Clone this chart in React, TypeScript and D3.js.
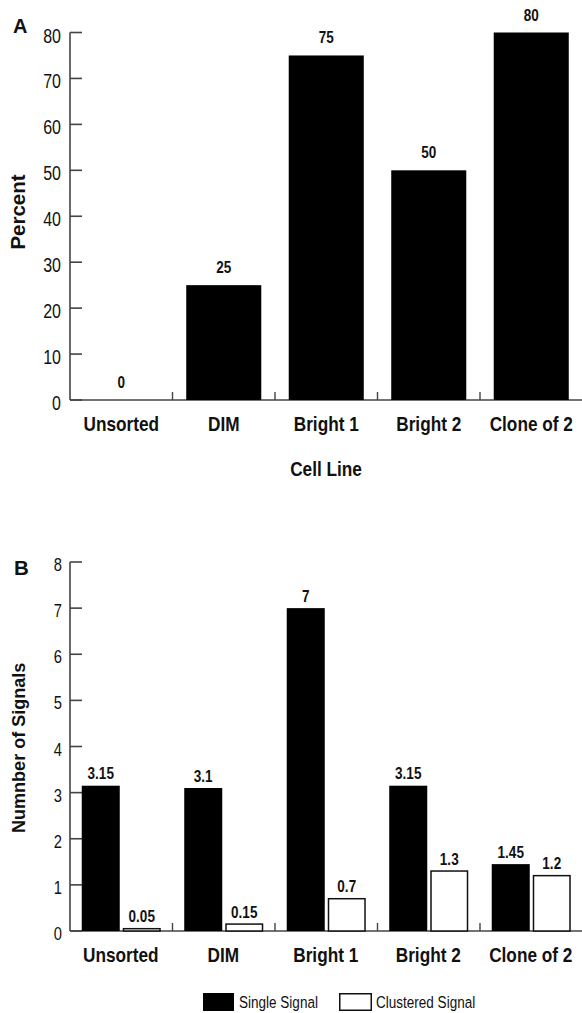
import React from "react";
import * as d3 from "d3";

const categories = ["Unsorted", "DIM", "Bright 1", "Bright 2", "Clone of 2"];
const percentValues = [0, 25, 75, 50, 80];
const percentTicks = [0, 10, 20, 30, 40, 50, 60, 70, 80];
const seriesNames = ["Single Signal", "Clustered Signal"];
const singleSignal = [3.15, 3.1, 7, 3.15, 1.45];
const clusteredSignal = [0.05, 0.15, 0.7, 1.3, 1.2];
const signalTicks = [0, 1, 2, 3, 4, 5, 6, 7, 8];

const W = 582;
const H = 1013;
const FONT = "'Liberation Sans', Arial, Helvetica, sans-serif";
const SQ = 0.82;

function T({ x, y, size, weight = "normal", anchor = "middle", rotate = 0, sx = SQ, children }: any) {
  return (
    <g transform={`translate(${x},${y}) rotate(${rotate}) scale(${sx},1)`}>
      <text
        x={0}
        y={0}
        fontFamily={FONT}
        fontSize={size}
        fontWeight={weight}
        textAnchor={anchor}
        fill="#111"
      >
        {children}
      </text>
    </g>
  );
}

export default function App() {
  const x0 = 70;
  const x1 = 582.5;
  const axisColor = "#444";

  // Panel A
  const xA = d3.scaleBand<string>().domain(categories).range([x0, x1]).paddingInner(0.268).paddingOuter(0.134);
  const yA = d3.scaleLinear().domain([0, 80]).range([400, 32.5]);
  const stepA = xA.step();

  // Panel B
  const xB = d3.scaleBand<string>().domain(categories).range([x0, x1]).paddingInner(0.229).paddingOuter(0.1145);
  const xS = d3.scaleBand<string>().domain(seriesNames).range([0, xB.bandwidth()]).paddingInner(0.073).paddingOuter(0);
  const yB = d3.scaleLinear().domain([0, 8]).range([931, 562]);

  const dividers = d3.range(1, categories.length).map((i) => x0 + i * stepA);

  return (
    <svg
      width={W}
      height={H}
      style={{ position: "absolute", left: 0, top: 0, background: "#fff" }}
    >
      <rect width={W} height={H} fill="#fff" />

      {/* ---------- Panel A ---------- */}
      <text x={13} y={33} fontFamily={FONT} fontSize={20} fontWeight="bold" fill="#111">A</text>

      {/* y axis */}
      <line x1={x0} x2={x0} y1={yA(80)} y2={yA(0)} stroke={axisColor} strokeWidth={1.6} />
      {percentTicks.map((t) => (
        <g key={"ta" + t}>
          <line x1={x0} x2={x0 + 12} y1={yA(t)} y2={yA(t)} stroke={axisColor} strokeWidth={1.6} />
          <T x={61} y={yA(t) + 10} size={19.5} anchor="end">{t}</T>
        </g>
      ))}
      {/* x axis */}
      <line x1={x0} x2={W} y1={yA(0)} y2={yA(0)} stroke={axisColor} strokeWidth={1.6} />
      {dividers.map((d) => (
        <line key={"da" + d} x1={d} x2={d} y1={yA(0)} y2={yA(0) - 8} stroke={axisColor} strokeWidth={1.4} />
      ))}

      {categories.map((c, i) => {
        const v = percentValues[i];
        const bx = xA(c)!;
        return (
          <g key={"ba" + c}>
            {v > 0 && (
              <rect x={bx} y={yA(v)} width={xA.bandwidth()} height={yA(0) - yA(v)} fill="#000" />
            )}
            <T x={bx + xA.bandwidth() / 2} y={yA(v) - 12} size={16.5} weight="bold">{v}</T>
            <T x={bx + xA.bandwidth() / 2} y={431} size={21} weight="bold">{c}</T>
          </g>
        );
      })}

      <T x={326} y={476} size={21} weight="bold">Cell Line</T>
      <T x={25} y={212} size={20.5} weight="bold" rotate={-90} sx={1}>Percent</T>

      {/* ---------- Panel B ---------- */}
      <text x={14} y={575} fontFamily={FONT} fontSize={20.5} fontWeight="bold" fill="#111">B</text>

      <line x1={x0} x2={x0} y1={yB(8)} y2={yB(0)} stroke={axisColor} strokeWidth={1.6} />
      {signalTicks.map((t) => (
        <g key={"tb" + t}>
          <line x1={x0} x2={x0 + 12} y1={yB(t)} y2={yB(t)} stroke={axisColor} strokeWidth={1.6} />
          <T x={62} y={yB(t) + 9} size={18} anchor="end">{t}</T>
        </g>
      ))}
      <line x1={x0} x2={W} y1={yB(0)} y2={yB(0)} stroke={axisColor} strokeWidth={1.6} />
      {dividers.map((d) => (
        <line key={"db" + d} x1={d} x2={d} y1={yB(0)} y2={yB(0) - 8} stroke={axisColor} strokeWidth={1.4} />
      ))}

      {categories.map((c, i) => {
        const bx = xB(c)!;
        const vals = [singleSignal[i], clusteredSignal[i]];
        return (
          <g key={"bb" + c}>
            {seriesNames.map((s, j) => {
              const v = vals[j];
              const sx = bx + xS(s)!;
              const w = xS.bandwidth();
              return (
                <g key={s}>
                  {j === 0 ? (
                    <rect x={sx} y={yB(v)} width={w} height={yB(0) - yB(v)} fill="#000" />
                  ) : (
                    <rect
                      x={sx + 0.75}
                      y={yB(v)}
                      width={w - 1.5}
                      height={yB(0) - yB(v)}
                      fill="#fff"
                      stroke="#111"
                      strokeWidth={1.5}
                    />
                  )}
                  <T x={sx + w / 2} y={yB(v) - 6.5} size={16.5} weight="bold">{v}</T>
                </g>
              );
            })}
            <T x={bx + xB.bandwidth() / 2 - 0.5} y={yB(0) + 31} size={21} weight="bold">{c}</T>
          </g>
        );
      })}

      <T x={25} y={833} size={19} weight="bold" rotate={-90} sx={0.95} anchor="start">Numnber of Signals</T>

      {/* legend */}
      <rect x={203} y={993} width={31} height={18} fill="#000" />
      <T x={239} y={1008} size={16.5} anchor="start">{seriesNames[0]}</T>
      <rect x={339.75} y={993.75} width={31.5} height={16.5} fill="#fff" stroke="#111" strokeWidth={1.5} />
      <T x={376} y={1008} size={16.5} anchor="start">{seriesNames[1]}</T>
    </svg>
  );
}
